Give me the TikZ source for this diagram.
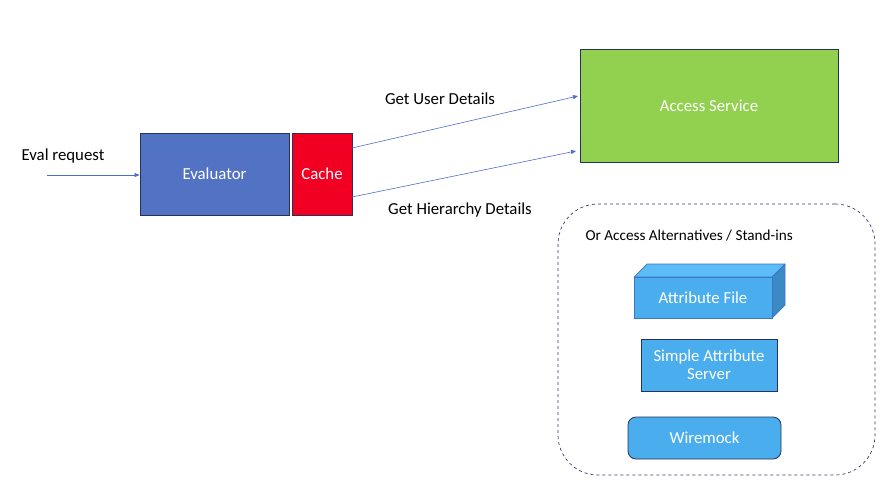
\documentclass[tikz,border=0pt]{standalone}
\usepackage{fontspec}
\setmainfont{Carlito}
\usetikzlibrary{arrows.meta,decorations.pathmorphing}
\definecolor{evalblue}{RGB}{82,114,196}
\definecolor{cachered}{RGB}{242,0,36}
\definecolor{accgreen}{RGB}{146,208,80}
\definecolor{navy}{RGB}{38,50,90}
\definecolor{ltblue}{RGB}{74,173,238}
\definecolor{topblue}{RGB}{92,188,245}
\definecolor{sideblue}{RGB}{58,138,197}
\definecolor{cubeedge}{RGB}{64,116,200}
\definecolor{linkblue}{RGB}{80,110,200}
\definecolor{dashnavy}{RGB}{50,60,110}
\begin{document}
\begin{tikzpicture}[x=1pt,y=-1pt,
  every node/.style={font=\fontsize{16.8}{19}\selectfont},
  box/.style={draw=navy,line width=0.8pt,text=white,inner sep=0pt},
  link/.style={draw=linkblue,line width=0.6pt,-{Triangle[length=5pt,width=4pt]}},
  lbl/.style={text=black}]
\useasboundingbox (0,0) rectangle (880,482);
% main boxes
\node[box,fill=evalblue,minimum width=149pt,minimum height=82pt] (eval) at (214.5,174) {Evaluator};
\node[box,fill=cachered,minimum width=60pt,minimum height=82pt] (cache) at (322,174) {Cache};
\node[box,fill=accgreen,minimum width=258pt,minimum height=113pt] (acc) at (709,105.5) {Access Service};
% input
\coordinate (in) at (47,175);
\node[lbl] (evreq) at (63,156) {Eval request};
\draw[link] (in) -- (eval.west|-in);
% connectors
\coordinate (c1) at (352,148);
\coordinate (a1) at (578,96);
\coordinate (c2) at (352,197);
\coordinate (a2) at (576,151);
\draw[link] (c1) -- (a1);
\draw[link] (c2) -- (a2);
\node[lbl] (gud) at (440,99) {Get User Details};
\node[lbl] (ghd) at (460,210) {Get Hierarchy Details};
% alternatives group
\node[draw=dashnavy,dashed,line width=0.7pt,rounded corners=40pt,minimum width=317pt,minimum height=271pt] (grp) at (716.5,339.5) {};
\node[lbl,anchor=west,font=\fontsize{15.2}{18}\selectfont] (grptitle) at (582,236) {Or Access Alternatives / Stand-ins};
% cuboid attribute file
\fill[topblue,draw=cubeedge,line width=0.7pt,line join=round] (634,277) -- (647,264) -- (785,264) -- (772,277) -- cycle;
\fill[sideblue,draw=cubeedge,line width=0.7pt,line join=round] (772,277) -- (785,264) -- (785,305) -- (772,318) -- cycle;
\node[draw=cubeedge,line width=0.7pt,fill=ltblue,text=white,minimum width=138pt,minimum height=41pt,inner sep=0pt] (af) at (703,297.5) {Attribute File};
\node[box,fill=ltblue,minimum width=136pt,minimum height=52pt,align=center] (sas) at (709,365) {Simple Attribute\\[-1pt]Server};
\node[box,fill=ltblue,rounded corners=8pt,minimum width=153pt,minimum height=42pt] (wm) at (704.5,438) {Wiremock};
\end{tikzpicture}
\end{document}
